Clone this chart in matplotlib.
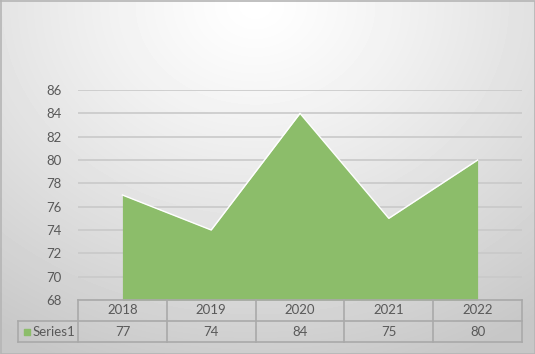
import numpy as np
import matplotlib
matplotlib.use("Agg")
import matplotlib.pyplot as plt

years = ["2018", "2019", "2020", "2021", "2022"]
values = [77, 74, 84, 75, 80]
series_name = "Series1"
yticks = list(range(68, 87, 2))

W, H = 535, 354
fill_col = "#8cbd6a"
grid_col = "#c9c9c9"
text_col = "#595959"
line_col = "#a9a9a9"
plt.rcParams["font.family"] = ["Lato", "DejaVu Sans"]
fs = 9.5

fig = plt.figure(figsize=(W / 100, H / 100), dpi=100)

# radial gray background, lightest near top centre
bg = fig.add_axes([0, 0, 1, 1], zorder=-10)
yy, xx = np.mgrid[0:H, 0:W]
r = np.sqrt(((xx - 255) / 520.0) ** 2 + ((yy - 5) / 430.0) ** 2)
shade = np.clip(1.0 - 0.25 * r ** 1.2, 0.78, 1.0)
bg.imshow(shade, cmap="gray", vmin=0, vmax=1, aspect="auto",
          extent=[0, W, H, 0], interpolation="bilinear")
bg.plot([0.5, W - 0.5, W - 0.5, 0.5, 0.5], [0.5, 0.5, H - 0.5, H - 0.5, 0.5],
        color="#b5b5b5", lw=1.2)
bg.set_xlim(0, W)
bg.set_ylim(H, 0)
bg.axis("off")

# main plot area
x0, x1 = 78, 522
ytop, ybot = 90, 300
ax = fig.add_axes([x0 / W, (H - ybot) / H, (x1 - x0) / W, (ybot - ytop) / H])
ax.patch.set_alpha(0)
x = np.arange(len(years))
ax.fill_between(x, yticks[0], values, color=fill_col, lw=0, zorder=3)
ax.plot(x, values, color="white", lw=1.0, zorder=4)
ax.set_xlim(-0.5, len(years) - 0.5)
ax.set_ylim(yticks[0], yticks[-1])
ax.set_yticks(yticks)
for t in yticks:
    ax.axhline(t, color=grid_col, lw=1.2, zorder=1)
ax.set_xticks([])
for s in ax.spines.values():
    s.set_visible(False)
ax.tick_params(axis="y", length=0, pad=12, labelsize=fs, labelcolor=text_col)

# data table under the plot
lab_w = 60 / ((x1 - x0) / len(years))
tx0 = x0 - 60
tb = fig.add_axes([tx0 / W, (H - 342) / H, (x1 - tx0) / W, 42 / H])
tb.patch.set_alpha(0)
tb.set_xlim(-0.5 - lab_w, len(years) - 0.5)
tb.set_ylim(0, 2)
tb.axis("off")
left = -0.5 - lab_w
right = len(years) - 0.5
tb.plot([-0.5, right], [2, 2], color=line_col, lw=1.2, clip_on=False)
tb.plot([left, right], [1, 1], color=line_col, lw=1.2, clip_on=False)
tb.plot([left, right], [0, 0], color=line_col, lw=1.2, clip_on=False)
for i in range(len(years) + 1):
    tb.plot([i - 0.5, i - 0.5], [0, 2], color=line_col, lw=1.2, clip_on=False)
tb.plot([left, left], [0, 1], color=line_col, lw=1.2, clip_on=False)
for i, (yr, v) in enumerate(zip(years, values)):
    tb.text(i, 1.5, yr, ha="center", va="center", fontsize=fs, color=text_col)
    tb.text(i, 0.5, str(v), ha="center", va="center", fontsize=fs, color=text_col)
tb.scatter([left + 0.1], [0.5], marker="s", s=16, color=fill_col, clip_on=False)
tb.text(left + 0.16, 0.5, series_name, ha="left", va="center",
        fontsize=fs, color=text_col)

fig.savefig("out.png", dpi=100)
